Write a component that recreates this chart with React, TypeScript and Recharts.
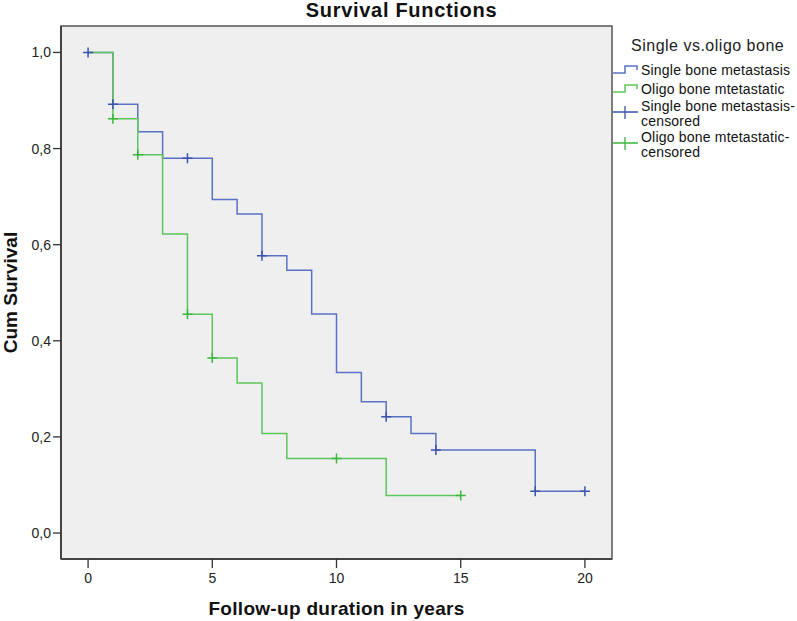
import {
  ComposedChart,
  Line,
  Scatter,
  XAxis,
  YAxis,
  ReferenceArea,
  Label,
} from "recharts";

// Kaplan-Meier step points (time in years, cumulative survival)
const SINGLE_T = [0, 1, 2, 3, 5, 6, 7, 8, 9, 10, 11, 12, 13, 14, 18, 20];
const SINGLE_S = [1, 0.892, 0.835, 0.78, 0.694, 0.664, 0.577, 0.547, 0.456, 0.334, 0.273, 0.242, 0.207, 0.173, 0.087, 0.087];
const OLIGO_T = [0, 1, 2, 3, 4, 5, 6, 7, 8, 12, 15];
const OLIGO_S = [1, 0.862, 0.787, 0.622, 0.455, 0.364, 0.312, 0.207, 0.155, 0.078, 0.078];

// censored observations
const SINGLE_CENS_T = [0, 1, 4, 7, 12, 14, 18, 20];
const SINGLE_CENS_S = [1, 0.892, 0.78, 0.577, 0.242, 0.173, 0.087, 0.087];
const OLIGO_CENS_T = [1, 2, 4, 5, 10, 15];
const OLIGO_CENS_S = [0.862, 0.787, 0.455, 0.364, 0.155, 0.078];

const X_TICKS = [0, 5, 10, 15, 20];
const Y_TICKS = [0, 0.2, 0.4, 0.6, 0.8, 1];

const LEGEND_TITLE = "Single vs.oligo bone";
const LEGEND_LABELS = [
  ["Single bone metastasis"],
  ["Oligo bone mtetastatic"],
  ["Single bone metastasis-", "censored"],
  ["Oligo bone mtetastatic-", "censored"],
];

const BLUE = "#5a72c4";
const BLUE_MARK = "#3a52b0";
const GREEN = "#5cc65c";
const GREEN_MARK = "#3bb83b";
const FONT = "Arial, 'Liberation Sans', sans-serif";

const X_DOMAIN: [number, number] = [-1.09, 21.09];
const Y_DOMAIN: [number, number] = [-0.054, 1.055];

const zip = (t: number[], s: number[]) => t.map((v, i) => ({ t: v, s: s[i] }));

const singleData = zip(SINGLE_T, SINGLE_S);
const oligoData = zip(OLIGO_T, OLIGO_S);
const singleCens = zip(SINGLE_CENS_T, SINGLE_CENS_S);
const oligoCens = zip(OLIGO_CENS_T, OLIGO_CENS_S);

const cross = (color: string) => (props: any) => {
  const { cx, cy } = props;
  return (
    <path
      d={`M${cx - 5},${cy}h10M${cx},${cy - 5}v10`}
      stroke={color}
      strokeWidth={1.5}
      fill="none"
    />
  );
};

const LegendBox = () => {
  const symbols = [
    (y: number) => (
      <path d={`M1,${y + 3}h12v-7h12v4`} stroke={BLUE} strokeWidth={1.5} fill="none" />
    ),
    (y: number) => (
      <path d={`M1,${y + 3}h12v-7h12v4`} stroke={GREEN} strokeWidth={1.5} fill="none" />
    ),
    (y: number) => (
      <path d={`M1,${y}h25M13,${y - 6}v13`} stroke={BLUE_MARK} strokeWidth={1.3} fill="none" />
    ),
    (y: number) => (
      <path d={`M1,${y}h25M13,${y - 6}v13`} stroke={GREEN_MARK} strokeWidth={1.3} fill="none" />
    ),
  ];
  const rows = [70, 89, 112, 143];
  return (
    <svg
      width={185}
      height={140}
      style={{ position: "absolute", left: 612, top: 30 }}
    >
      <text x={19} y={21} fontSize={16} fontFamily={FONT} fill="#222" letterSpacing={0.5}>
        {LEGEND_TITLE}
      </text>
      {LEGEND_LABELS.map((lines, i) => (
        <g key={i}>
          {symbols[i](rows[i] - 30 + (i < 2 ? 0 : 0))}
          {lines.map((ln, j) => (
            <text
              key={j}
              x={29}
              y={rows[i] - 30 + 5 + (i >= 2 ? -6 : 0) + j * 15}
              fontSize={14}
              fontFamily={FONT}
              fill="#111"
              letterSpacing={0.2}
            >
              {ln}
            </text>
          ))}
        </g>
      ))}
    </svg>
  );
};

const App = () => {
  return (
    <div style={{ position: "absolute", left: 0, top: 0, width: 797, height: 621, background: "#fff" }}>
      <div
        style={{
          position: "absolute",
          left: 0,
          width: 803,
          top: 0,
          textAlign: "center",
          fontFamily: FONT,
          fontWeight: "bold",
          fontSize: 20,
          letterSpacing: 0.7,
          color: "#111",
          lineHeight: "20px",
        }}
      >
        Survival Functions
      </div>
      <ComposedChart
        width={797}
        height={621}
        margin={{ top: 26, right: 185, bottom: 0, left: 0 }}
        style={{ position: "absolute", left: 0, top: 0 }}
      >
        <XAxis
          dataKey="t"
          type="number"
          domain={X_DOMAIN}
          ticks={X_TICKS}
          allowDataOverflow
          height={62}
          tickSize={9}
          tickMargin={5}
          axisLine={{ stroke: "#444", strokeWidth: 2 }}
          tickLine={{ stroke: "#333", strokeWidth: 1.3 }}
          tick={{ fill: "#222", fontSize: 14, fontFamily: FONT }}
        >
          <Label
            content={({ viewBox }: any) => (
              <text
                x={viewBox.x + viewBox.width / 2}
                y={615}
                textAnchor="middle"
                fontFamily={FONT}
                fontWeight="bold"
                fontSize={19}
                letterSpacing={0.3}
                fill="#111"
              >
                Follow-up duration in years
              </text>
            )}
          />
        </XAxis>
        <YAxis
          dataKey="s"
          type="number"
          domain={Y_DOMAIN}
          ticks={Y_TICKS}
          allowDataOverflow
          width={61}
          tickSize={8}
          tickMargin={2}
          tickFormatter={(v: number) => v.toFixed(1).replace(".", ",")}
          axisLine={{ stroke: "#444", strokeWidth: 2 }}
          tickLine={{ stroke: "#333", strokeWidth: 1.3 }}
          tick={{ fill: "#222", fontSize: 14, fontFamily: FONT }}
        >
          <Label
            content={({ viewBox }: any) => {
              const cy = viewBox.y + viewBox.height / 2;
              return (
                <text
                  x={17}
                  y={cy}
                  transform={`rotate(-90 17 ${cy})`}
                  textAnchor="middle"
                  fontFamily={FONT}
                  fontWeight="bold"
                  fontSize={19}
                  fill="#111"
                >
                  Cum Survival
                </text>
              );
            }}
          />
        </YAxis>
        <ReferenceArea
          x1={X_DOMAIN[0]}
          x2={X_DOMAIN[1]}
          y1={Y_DOMAIN[0]}
          y2={Y_DOMAIN[1]}
          fill="#efefef"
          fillOpacity={1}
          stroke="#555"
          strokeWidth={1.5}
        />
        <Line
          data={singleData}
          dataKey="s"
          type="stepAfter"
          stroke={BLUE}
          strokeWidth={1.5}
          dot={false}
          isAnimationActive={false}
        />
        <Line
          data={oligoData}
          dataKey="s"
          type="stepAfter"
          stroke={GREEN}
          strokeWidth={1.5}
          dot={false}
          isAnimationActive={false}
        />
        <Scatter data={singleCens} shape={cross(BLUE_MARK)} isAnimationActive={false} />
        <Scatter data={oligoCens} shape={cross(GREEN_MARK)} isAnimationActive={false} />
      </ComposedChart>
      <LegendBox />
    </div>
  );
};

export default App;
